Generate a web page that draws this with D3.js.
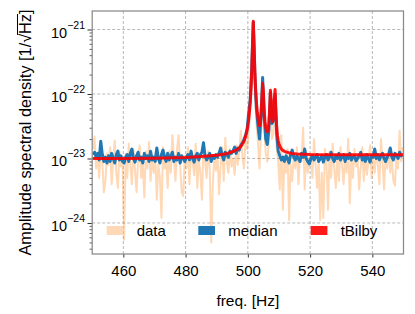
<!DOCTYPE html>
<html>
<head>
<meta charset="utf-8">
<script src="https://cdn.jsdelivr.net/npm/d3@7"></script>
<style>
body{margin:0;background:#fff;}
svg text{font-family:"Liberation Sans",Arial,sans-serif;fill:#000;}
</style>
</head>
<body>
<svg id="chart" width="415" height="314"></svg>
<script>
// frequency grid of data and median (Hz)
var freqStart = 450.25, freqStep = 0.5;
// ASD values are in units of 1e-23 / sqrt(Hz)
var unit = 1e-23;

var dataAsd = [
  1.4, 2.2, 0.7, 1.1, 0.5, 1.6, 0.9, 0.3, 0.45, 1.2,
  0.8, 1.5, 0.4, 1.0, 1.9, 0.6, 0.35, 1.3, 0.75, 0.9,
  0.055, 1.2, 0.5, 1.7, 0.8, 0.4, 1.4, 0.65, 0.3, 1.0,
  1.6, 0.5, 0.9, 0.25, 1.3, 0.7, 1.8, 0.45, 1.1, 0.6,
  1.2, 0.23, 0.8, 0.5, 0.12, 1.5, 0.7, 1.0, 0.35, 1.3,
  0.6, 2.3, 1.0, 0.45, 1.4, 2.3, 0.8, 0.3, 0.26, 1.1,
  0.7, 1.5, 0.4, 1.2, 0.9, 0.55, 1.7, 0.35, 1.0, 0.6,
  0.23, 1.8, 0.9, 0.5, 1.3, 0.7, 0.05, 0.4, 1.1, 0.65,
  1.2, 0.28, 0.8, 1.5, 0.45, 2.1, 0.9, 0.6, 1.4, 0.75,
  1.0, 0.56, 1.6, 0.8, 1.3, 2.7, 1.1, 0.7, 1.9, 1.4,
  2.5, 5.5, 15, 80, 12, 3.5, 1.8, 0.7, 2.5, 9,
  3.0, 1.2, 0.9, 1.8, 7, 2.0, 2.5, 8, 1.5, 0.9,
  0.33, 2.3, 0.16, 1.0, 0.6, 1.4, 0.11, 0.8, 0.45, 1.2,
  0.7, 1.5, 0.4, 1.1, 0.9, 3.0, 0.33, 1.3, 0.6, 1.0,
  1.2, 0.5, 2.0, 0.8, 0.35, 1.0, 0.11, 0.6, 0.12, 1.4,
  0.9, 0.16, 1.3, 0.5, 1.7, 0.7, 0.35, 1.1, 0.45, 1.5,
  0.8, 0.4, 1.2, 0.6, 2.0, 0.2, 1.0, 0.5, 1.4, 0.75,
  1.1, 0.33, 0.7, 1.5, 0.45, 1.2, 0.56, 0.9, 1.6, 0.5,
  1.0, 0.6, 1.3, 0.8, 0.4, 2.0, 0.9, 0.33, 1.1, 0.7,
  1.4, 0.6, 1.0, 0.45, 0.38, 1.2, 0.7, 2.7, 0.9, 1.5
];

var medianAsd = [
  1.15, 1.25, 1.05, 1.2, 0.95, 1.85, 1.15, 0.9, 1.05, 0.85,
  1.1, 0.9, 1.2, 1.0, 0.85, 1.15, 1.3, 0.95, 1.1, 0.9,
  0.85, 1.05, 1.15, 0.9, 1.2, 1.4, 1.0, 0.88, 1.1, 1.25,
  0.95, 1.05, 0.85, 1.2, 1.0, 1.1, 0.9, 1.3, 0.95, 1.05,
  0.9, 1.45, 1.0, 0.85, 1.15, 1.35, 1.05, 0.9, 1.2, 0.95,
  1.1, 1.25, 0.9, 1.05, 0.95, 1.2, 0.85, 1.1, 1.0, 0.9,
  1.05, 1.15, 0.95, 1.3, 1.0, 0.88, 1.1, 1.2, 0.95, 1.15,
  1.25, 1.75, 1.1, 0.95, 1.05, 1.2, 0.9, 1.1, 1.0, 1.15,
  1.05, 1.2, 1.45, 1.1, 0.95, 1.25, 1.15, 1.05, 1.3, 1.2,
  1.3, 1.5, 1.2, 1.45, 1.35, 1.6, 1.75, 1.95, 2.3, 2.8,
  5.0, 8.0, 25, 130, 20, 6.0, 3.2, 2.0, 4.5, 18,
  4.5, 2.0, 1.65, 2.8, 10.5, 3.5, 4.0, 10.0, 2.4, 1.3,
  1.1, 0.95, 1.05, 0.9, 1.1, 1.0, 0.85, 1.15, 1.35, 1.05,
  0.95, 1.1, 1.0, 0.9, 1.2, 1.05, 1.4, 1.0, 0.9, 0.82,
  1.0, 1.1, 0.95, 1.05, 1.15, 0.9, 1.0, 1.1, 0.88, 1.05,
  1.15, 0.95, 1.05, 1.25, 1.0, 0.9, 1.1, 1.0, 1.2, 0.95,
  1.05, 1.15, 0.9, 1.1, 1.0, 1.2, 0.95, 1.05, 1.1, 0.92,
  1.0, 1.1, 1.25, 0.95, 1.05, 0.9, 1.15, 1.0, 0.88, 1.1,
  1.05, 1.4, 1.0, 1.15, 0.95, 1.1, 1.2, 1.0, 0.9, 1.05,
  1.15, 1.45, 1.05, 0.95, 1.2, 1.1, 1.0, 1.25, 1.1, 1.15
];

var tbilbyFreq = [450, 460, 470, 480, 485, 490, 493, 495, 496, 497,
  497.5, 498, 498.5, 499, 499.5, 500, 500.25, 500.5, 500.75, 501,
  501.25, 501.5, 501.75, 502, 502.25, 502.5, 502.75, 503, 503.25, 503.5,
  503.75, 504, 504.25, 504.5, 504.75, 505, 505.25, 505.5, 505.75, 506,
  506.25, 506.5, 506.75, 507, 507.25, 507.5, 507.75, 508, 508.25, 508.5,
  508.75, 509, 509.25, 509.5, 509.75, 510, 510.5, 511, 512, 514,
  516, 520, 530, 540, 550];
var tbilbyAsd = [1.0, 1.0, 1.01, 1.04, 1.07, 1.12, 1.18, 1.27, 1.33, 1.42,
  1.5, 1.6, 1.75, 1.98, 2.4, 3.2, 3.95, 5.15, 7.3, 11.7,
  22.8, 59, 134, 59, 22.9, 11.8, 7.5, 5.45, 4.2, 3.5,
  3.2, 3.6, 5.1, 8.4, 14.5, 10.8, 5.8, 3.76, 3.0, 2.66,
  2.6, 2.8, 3.5, 5.9, 11.4, 8.0, 4.4, 3.7, 4.5, 8.1,
  11.7, 5.8, 3.2, 2.3, 1.9, 1.68, 1.47, 1.36, 1.27, 1.2,
  1.17, 1.15, 1.14, 1.14, 1.14];

var xTicks = [460, 480, 500, 520, 540];
var yDecades = [-24, -23, -22, -21];
var legendLabels = ["data", "median", "tBilby"];

var svg = d3.select("#chart");
var plot_left = 92.2, plot_right = 403.5, plot_top = 11, plot_bottom = 254;

var x = d3.scaleLinear().domain([450, 550]).range([plot_left, plot_right]);
var y = d3.scaleLog().domain([Math.pow(10, -24.481), Math.pow(10, -20.713)]).range([plot_bottom, plot_top]);

var freqs = d3.range(dataAsd.length).map(function(i) { return freqStart + i * freqStep; });
var dataPts = freqs.map(function(f, i) { return [f, dataAsd[i] * unit]; });
var medPts = freqs.map(function(f, i) { return [f, medianAsd[i] * unit]; });
var tbPts = tbilbyFreq.map(function(f, i) { return [f, tbilbyAsd[i] * unit]; });

// minor ticks 2..9 x 10^k
var minorTicks = [];
yDecades.concat([-25]).forEach(function(k) {
  for (var m = 2; m < 10; m++) {
    var v = m * Math.pow(10, k);
    if (v > y.domain()[0] && v < y.domain()[1]) minorTicks.push(v);
  }
});

svg.append("defs").append("clipPath").attr("id", "clip").append("rect")
  .attr("x", plot_left).attr("y", plot_top).attr("width", plot_right - plot_left).attr("height", plot_bottom - plot_top);

// grid
var grid = svg.append("g").attr("stroke", "#b0b0b0").attr("stroke-width", 0.9).attr("stroke-dasharray", "3,2");
grid.selectAll(".gx").data(xTicks).enter().append("line")
  .attr("x1", function(d) { return x(d); }).attr("x2", function(d) { return x(d); })
  .attr("y1", plot_top).attr("y2", plot_bottom);
grid.selectAll(".gy").data(yDecades).enter().append("line")
  .attr("y1", function(d) { return y(Math.pow(10, d)); }).attr("y2", function(d) { return y(Math.pow(10, d)); })
  .attr("x1", plot_left).attr("x2", plot_right);

var line = d3.line().x(function(d) { return x(d[0]); }).y(function(d) { return y(d[1]); });
var lines = svg.append("g").attr("clip-path", "url(#clip)").attr("fill", "none").attr("stroke-linejoin", "round");
lines.append("path").attr("d", line(dataPts)).attr("stroke", "#ff7f0e").attr("stroke-opacity", 0.3).attr("stroke-width", 2);
lines.append("path").attr("d", line(medPts)).attr("stroke", "#1f77b4").attr("stroke-width", 3);
lines.append("path").attr("d", line(tbPts)).attr("stroke", "red").attr("stroke-opacity", 0.9).attr("stroke-width", 3);

// axes
var xAxis = svg.append("g").attr("transform", "translate(0," + plot_bottom + ")")
  .call(d3.axisBottom(x).tickValues(xTicks).tickSize(3.5).tickPadding(7.5).tickFormat(d3.format("d")));
xAxis.select(".domain").remove();
xAxis.selectAll("line").attr("stroke", "#333");
xAxis.selectAll("text").style("font-size", "15px").style("font-family", "'Liberation Sans',Arial,sans-serif");

var yAxis = svg.append("g").attr("transform", "translate(" + plot_left + ",0)")
  .call(d3.axisLeft(y).tickValues(yDecades.map(function(k) { return Math.pow(10, k); })).tickSize(4.7).tickFormat(""));
yAxis.select(".domain").remove();
yAxis.selectAll("line").attr("stroke", "#333");
var yMinor = svg.append("g").attr("transform", "translate(" + plot_left + ",0)")
  .call(d3.axisLeft(y).tickValues(minorTicks).tickSize(2.6).tickFormat(""));
yMinor.select(".domain").remove();
yMinor.selectAll("line").attr("stroke", "#333").attr("stroke-width", 0.8);

var ylabs = svg.append("g").selectAll("text").data(yDecades).enter().append("text")
  .attr("x", 85).attr("y", function(d) { return y(Math.pow(10, d)) + 8; })
  .attr("text-anchor", "end").style("font-size", "14.5px");
ylabs.append("tspan").text("10");
ylabs.append("tspan").attr("dy", -9).style("font-size", "10.5px").text(function(d) { return "\u2212" + Math.abs(d); });

// frame
svg.append("rect").attr("x", plot_left).attr("y", plot_top).attr("width", plot_right - plot_left).attr("height", plot_bottom - plot_top)
  .attr("fill", "none").attr("stroke", "#8a8a8a").attr("stroke-width", 1.25);

// axis labels
svg.append("text").attr("x", (plot_left + plot_right) / 2).attr("y", 306).attr("text-anchor", "middle")
  .style("font-size", "15.5px").text("freq. [Hz]");

var ylabG = svg.append("g").attr("transform", "translate(31," + ((plot_top + plot_bottom) / 2) + ") rotate(-90)");
var ylabStr = "Amplitude spectral density [1/\u221AHz]";
var ylab = ylabG.append("text").attr("text-anchor", "middle").style("font-size", "16.3px").text(ylabStr);
var hIdx = ylabStr.indexOf("H");
var hBox = ylab.node().getExtentOfChar(hIdx), zBox = ylab.node().getExtentOfChar(hIdx + 1);
var rBox = ylab.node().getExtentOfChar(hIdx - 1);
ylabG.append("line").attr("x1", rBox.x + rBox.width - 1).attr("x2", zBox.x + zBox.width)
  .attr("y1", hBox.y + 1.5).attr("y2", hBox.y + 1.5).attr("stroke", "#000").attr("stroke-width", 1);

// legend
var legendColors = ["#ffd9b7", "#1f77b4", "#ff1a1a"];
var legendPatchX = [106.7, 198.3, 310.7];
var leg = svg.append("g").selectAll("g").data(legendLabels).enter().append("g");
leg.append("rect").attr("x", function(d, i) { return legendPatchX[i]; }).attr("y", 226)
  .attr("width", 16.7).attr("height", 9).attr("fill", function(d, i) { return legendColors[i]; });
leg.append("text").attr("x", function(d, i) { return legendPatchX[i] + 30; }).attr("y", 236)
  .style("font-size", "15px").text(function(d) { return d; });
</script>
</body>
</html>
